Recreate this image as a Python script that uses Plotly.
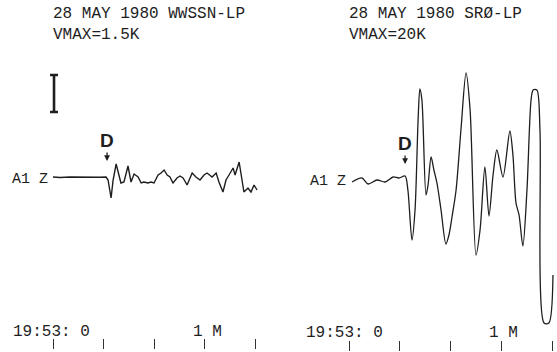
import plotly.graph_objects as go

# ---------------- data (seconds after 19:53:00, relative trace amplitude) -------------
wwssn_t = [0.0, 2.8, 6.7, 10.7, 14.7, 18.6, 21.0, 21.8, 23.0, 23.8, 25.0, 26.1, 26.9, 28.1,
           29.7, 30.9, 32.1, 33.7, 34.9, 36.0, 37.6, 38.8, 40.0, 41.6, 42.8, 44.0, 45.2,
           46.3, 47.5, 49.1, 50.3, 51.5, 53.1, 55.1, 56.6, 58.2, 59.8, 61.0, 63.0, 64.6,
           65.7, 67.3, 68.5, 69.7, 71.3, 72.1, 73.7, 75.6, 77.2, 78.4, 79.6, 80.8]
wwssn_amp = [0, -0.5, 0, -0.3, 0, -0.2, 0, -3, -21, -3, 13, 1, -6, -5,
             11, -5, 3, 0, -6, -5, -6, -5, -6, 2, 4, 7, 2,
             0, -6, -1, 1, -1, -8, 4, 0, -3, 2, 4, 0, 4,
             -5, -15, -3, 2, 9, 2, 15, -15, -11, -15, -8, -13]

sro_t = [1.2, 5.1, 7.5, 11.0, 14.1, 17.3, 19.6, 22.0, 23.1, 24.7, 25.9, 27.1, 27.8, 28.6,
         30.2, 31.0, 32.2, 33.3, 34.5, 36.1, 38.0, 39.2, 40.4, 42.0, 43.9, 45.9, 47.5,
         49.8, 51.4, 53.3, 54.9, 56.5, 58.0, 60.4, 63.1, 64.3, 65.5, 66.7, 68.2, 69.8,
         71.4, 72.2, 73.7, 74.9, 76.5, 78.4, 80.0]
sro_amp = [-5, -1, -7, -3, -5, 0, -1, 1, -13, -63, -33, 57, 88, 77,
           -18, -8, 20, 7, -6, -33, -67, -58, -40, -13, 47, 104, 67,
           -78, -53, 10, -39, 2, 27, 0, 46, 22, -26, -38, -69, -13,
           77, 87, 87, 47, -146, -146, -98]

tick_seconds = [0, 20, 40, 60, 80]
panel_titles = ["28 MAY 1980 WWSSN-LP", "28 MAY 1980 SRØ-LP"]
panel_vmax = ["VMAX=1.5K", "VMAX=20K"]
channel_label = "A1 Z"
start_label = "19:53: 0"
minute_label = "1 M"
phase_label = "D"
phase_onset = [21.4, 22.0]          # seconds
scale_bar_amp = 37                  # calibration bar height (trace units)

# ---------------- figure -------------
ink = "#1e1e1e"
mono = "Liberation Mono"
fig = go.Figure()

fig.add_trace(go.Scatter(x=wwssn_t, y=wwssn_amp, mode="lines",
                         line=dict(color=ink, width=1.4), xaxis="x", yaxis="y",
                         hoverinfo="skip"))
fig.add_trace(go.Scatter(x=sro_t, y=sro_amp, mode="lines",
                         line=dict(color=ink, width=1.3, shape="spline", smoothing=0.8),
                         xaxis="x2", yaxis="y2", hoverinfo="skip"))
# calibration bar on left panel
fig.add_trace(go.Scatter(x=[0.4], y=[83.5], mode="markers",
                         marker=dict(size=1, color="rgba(0,0,0,0)"),
                         error_y=dict(type="constant", value=scale_bar_amp / 2,
                                      color=ink, thickness=2.6, width=4),
                         xaxis="x", yaxis="y", hoverinfo="skip"))

W, H = 557, 352
axcommon = dict(showgrid=False, zeroline=False, showline=False, showticklabels=False,
                ticks="outside", ticklen=10, tickwidth=1.4, tickcolor="#333",
                tickvals=tick_seconds, fixedrange=True)
yax = dict(showgrid=False, zeroline=False, showline=False, showticklabels=False,
           ticks="", fixedrange=True)

fig.update_layout(
    width=W, height=H, margin=dict(l=0, r=0, t=0, b=0),
    paper_bgcolor="white", plot_bgcolor="white", showlegend=False,
    xaxis=dict(domain=[2.5 / W, 300.5 / W], range=[-20, 98], anchor="y", **axcommon),
    xaxis2=dict(domain=[303.1 / W, 556.8 / W], range=[-18, 81.5], anchor="y2", **axcommon),
    yaxis=dict(domain=[14 / H, 1], range=[-161, 177], anchor="x", **yax),
    yaxis2=dict(domain=[12 / H, 1], range=[-163, 177], anchor="x2", **yax),
)

ann = []
for i, (xr, yr) in enumerate([("x", "y"), ("x2", "y2")]):
    ann.append(dict(x=-0.6, y=153, xref=xr, yref=yr,
                    text=panel_titles[i] + "<br>" + panel_vmax[i], showarrow=False,
                    align="left", xanchor="left", yanchor="middle",
                    font=dict(family=mono, size=16, color=ink)))
    # phase marker
    ann.append(dict(x=phase_onset[i], y=37 if i == 0 else 34, xref=xr, yref=yr, text=phase_label,
                    showarrow=False, xanchor="center", yanchor="middle",
                    font=dict(family="Liberation Sans", size=19, color=ink, weight="bold")))
    ann.append(dict(x=phase_onset[i], y=16 if i == 0 else 13, xref=xr, yref=yr, text="",
                    showarrow=True, ax=0, ay=-10, arrowhead=2, arrowsize=0.9,
                    arrowwidth=1.3, arrowcolor=ink))

# channel labels
ann.append(dict(x=-1.2, y=-2, xref="x", yref="y", text=channel_label, showarrow=False,
                xanchor="right", yanchor="middle", font=dict(family=mono, size=15, color=ink)))
ann.append(dict(x=-0.4, y=-4, xref="x2", yref="y2", text=channel_label, showarrow=False,
                xanchor="right", yanchor="middle", font=dict(family=mono, size=15, color=ink)))
# time labels
ann.append(dict(x=-16.6, y=-155, xref="x", yref="y", text=start_label, showarrow=False,
                xanchor="left", yanchor="middle", font=dict(family=mono, size=16, color=ink)))
ann.append(dict(x=-17.6, y=-156, xref="x2", yref="y2", text=start_label, showarrow=False,
                xanchor="left", yanchor="middle", font=dict(family=mono, size=16, color=ink)))
ann.append(dict(x=54.6, y=-155, xref="x", yref="y", text=minute_label, showarrow=False,
                xanchor="left", yanchor="middle", font=dict(family=mono, size=16, color=ink)))
ann.append(dict(x=54.2, y=-156, xref="x2", yref="y2", text=minute_label, showarrow=False,
                xanchor="left", yanchor="middle", font=dict(family=mono, size=16, color=ink)))

fig.update_layout(annotations=ann)
fig.write_html("out.html",
               config={"displayModeBar": False},
               post_script="document.body.style.margin='0px';"
                           "document.body.style.padding='0px';"
                           "document.body.style.overflow='hidden';")
